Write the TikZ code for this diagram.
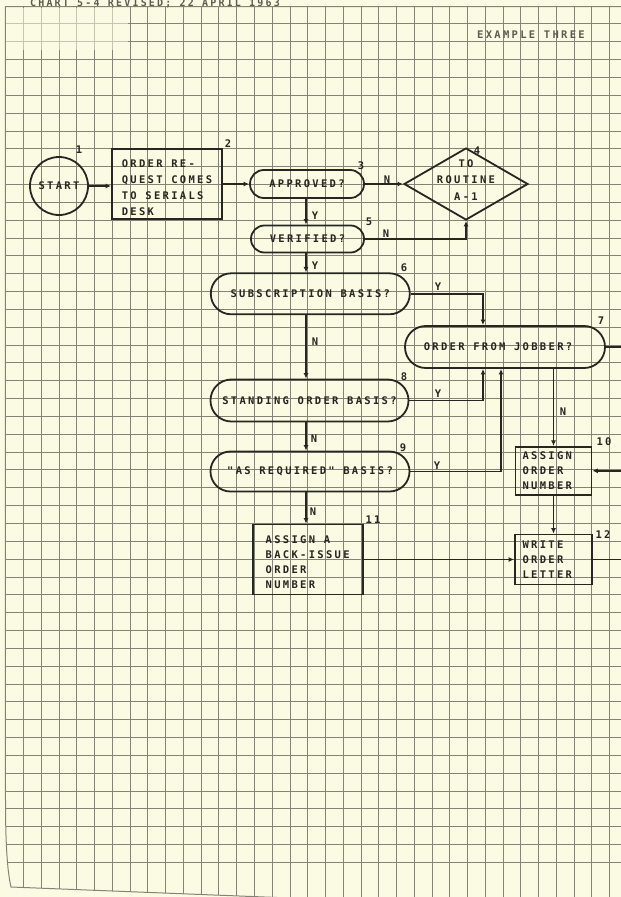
\documentclass[tikz,border=0pt]{standalone}
\usepackage{fontspec}
\newfontfamily\lettering[LetterSpace=22]{DejaVu Sans Mono Bold}
\usetikzlibrary{shapes.geometric,arrows.meta}
\definecolor{paper}{RGB}{251,251,228}
\definecolor{ink}{RGB}{38,38,34}
\definecolor{gridink}{RGB}{132,132,118}
\definecolor{headink}{RGB}{92,92,84}
\begin{document}
\begin{tikzpicture}[x=1pt,y=-1pt,
  txt/.style={font=\lettering\fontsize{10.5}{15}\selectfont, text=ink, inner sep=0pt},
  wire/.style={draw=ink, line width=1.8pt},
  arrow/.style={wire, -{Latex[length=5.5pt,width=5pt]}},
  procbox/.style={txt, draw=ink, line width=1.8pt, rectangle, align=left},
  termbox/.style={txt, draw=ink, line width=1.8pt, rectangle, align=center},
  gridline/.style={draw=gridink, line width=0.8pt},
]
\useasboundingbox (0,0) rectangle (621,897);
\fill[paper] (0,0) rectangle (621,897);

% ruled sheet: squares of about 17.8 units, clipped to the sheet edge
\begin{scope}
  \clip (5.3,6.7) -- (621,6.7) -- (621,897) -- (265,897) -- (11,887)
        .. controls (7,870) and (5.5,840) .. (5.5,800) -- cycle;
  \foreach \i in {0,...,33}
    \draw[gridline] ({23.5+17.76*\i},6.7) -- ({23.5+17.76*\i},897);
  \foreach \j in {-1,...,46}
    \draw[gridline] (5,{41.7+17.84*\j}) -- (621,{41.7+17.84*\j});
  % faded corner of the ruling at the top left
  \fill[paper, opacity=0.55] (6,7.6) rectangle (128,50);
\end{scope}
\draw[gridline, line width=1pt] (621,6.7) -- (5.3,6.7) -- (5.5,800)
      .. controls (5.5,840) and (7,870) .. (11,887) -- (280,897.6);

% headings
\node[txt, text=headink, anchor=base, font=\lettering\fontsize{10}{12}\selectfont] (title) at (155,6.3) {CHART 5-4 REVISED; 22 APRIL 1963};
\node[txt, text=headink] (example) at (531,35) {EXAMPLE THREE};

% flowchart symbols
\node[txt, circle, draw=ink, line width=1.8pt, minimum size=58pt] (start) at (59,186) {START};
\node[procbox, minimum width=110pt, minimum height=70pt,
      font=\lettering\fontsize{10.5}{16}\selectfont] (request) at (167,184)
      {\rule{0pt}{15pt}ORDER RE-\\QUEST COMES\\TO SERIALS\\DESK};
\node[termbox, rounded corners=13.9pt, minimum width=114pt, minimum height=28pt] (approved) at (307,184) {APPROVED?};
\node[diamond, draw=ink, line width=1.8pt, minimum width=124pt, minimum height=72pt, inner sep=0pt] (routine) at (466,184) {};
\node[txt, align=center, font=\lettering\fontsize{10.5}{16.5}\selectfont] (routinetext) at (466,180) {TO\\ROUTINE\\A-1};
\node[termbox, rounded corners=13.4pt, minimum width=113pt, minimum height=27pt] (verified) at (307.5,239) {VERIFIED?};
\node[termbox, rounded corners=20.4pt, minimum width=199pt, minimum height=41pt] (subscr) at (310.3,293.8) {SUBSCRIPTION BASIS?};
\node[termbox, rounded corners=20.9pt, minimum width=200pt, minimum height=42pt] (jobber) at (505,347) {ORDER FROM JOBBER?\hspace*{14pt}};
\node[termbox, rounded corners=20.9pt, minimum width=198pt, minimum height=42pt] (standing) at (309.5,400.5) {STANDING ORDER BASIS?};
\node[termbox, rounded corners=19.9pt, minimum width=199pt, minimum height=40pt] (asreq) at (310,471.5) {"AS REQUIRED" BASIS?};
\node[procbox, text width=62pt, inner xsep=7pt, minimum height=48pt] (assign) at (553.5,470.8) {ASSIGN\\ORDER\\NUMBER};
\node[procbox, minimum width=110pt, minimum height=70pt] (backissue) at (307.7,559.5) {\rule{0pt}{13pt}ASSIGN A\\BACK-ISSUE\\ORDER\\NUMBER};
\node[procbox, text width=62pt, inner xsep=7.5pt, minimum height=50pt] (write) at (553.5,559.5) {WRITE\\ORDER\\LETTER};

% step numbers
\node[txt] (num1) at (79,150) {1};
\node[txt] (num2) at (228,144) {2};
\node[txt] (num3) at (361,166) {3};
\node[txt] (num4) at (477,151) {4};
\node[txt] (num5) at (369,222) {5};
\node[txt] (num6) at (404,268) {6};
\node[txt] (num7) at (601,321) {7};
\node[txt] (num8) at (404,377) {8};
\node[txt] (num9) at (403,448) {9};
\node[txt] (num10) at (604,442) {10};
\node[txt] (num11) at (373,520) {11};
\node[txt] (num12) at (603,535) {12};

% routing columns and the sheet's right edge
\coordinate (spine) at (306,0);
\coordinate (jobberin) at (483,0);
\coordinate (jobberin2) at (501,0);
\coordinate (pageright) at (621,0);

% connectors
\draw[arrow] (start.east) -- (start.east -| request.west);
\draw[arrow] (request.east) -- (approved.west);
\draw[arrow] (approved.east) -- (routine.west);
\draw[arrow] (approved.south -| spine) -- (verified.north -| spine);
\draw[arrow] (verified.east) -| (routine.south);
\draw[arrow] (verified.south -| spine) -- (subscr.north -| spine);
\draw[arrow] (subscr.east) -| (jobber.north -| jobberin);
\draw[arrow] (subscr.south -| spine) -- (standing.north -| spine);
\draw[arrow] (standing.east) -| (jobber.south -| jobberin);
\draw[arrow] (standing.south -| spine) -- (asreq.north -| spine);
\draw[arrow] (asreq.east) -| (jobber.south -| jobberin2);
\draw[arrow] (asreq.south -| spine) -- (backissue.north -| spine);
\draw[arrow] (jobber.south -| assign.north) -- (assign.north);
\draw[arrow] (assign.south) -- (write.north);
\draw[arrow] (backissue.east) -- (write.west);
\draw[wire] (jobber.east) -- (jobber.east -| pageright);
\draw[arrow] (assign.east -| pageright) -- (assign.east);
\draw[wire] (write.east) -- (write.east -| pageright);

% yes / no marks
\node[txt] (mark1) at (387,180) {N};
\node[txt] (mark2) at (315,216) {Y};
\node[txt] (mark3) at (386,234) {N};
\node[txt] (mark4) at (315,266) {Y};
\node[txt] (mark5) at (438,287) {Y};
\node[txt] (mark6) at (315,342) {N};
\node[txt] (mark7) at (438,394) {Y};
\node[txt] (mark8) at (314,439) {N};
\node[txt] (mark9) at (437,466) {Y};
\node[txt] (mark10) at (563,412) {N};
\node[txt] (mark11) at (313,512) {N};
\end{tikzpicture}
\end{document}
